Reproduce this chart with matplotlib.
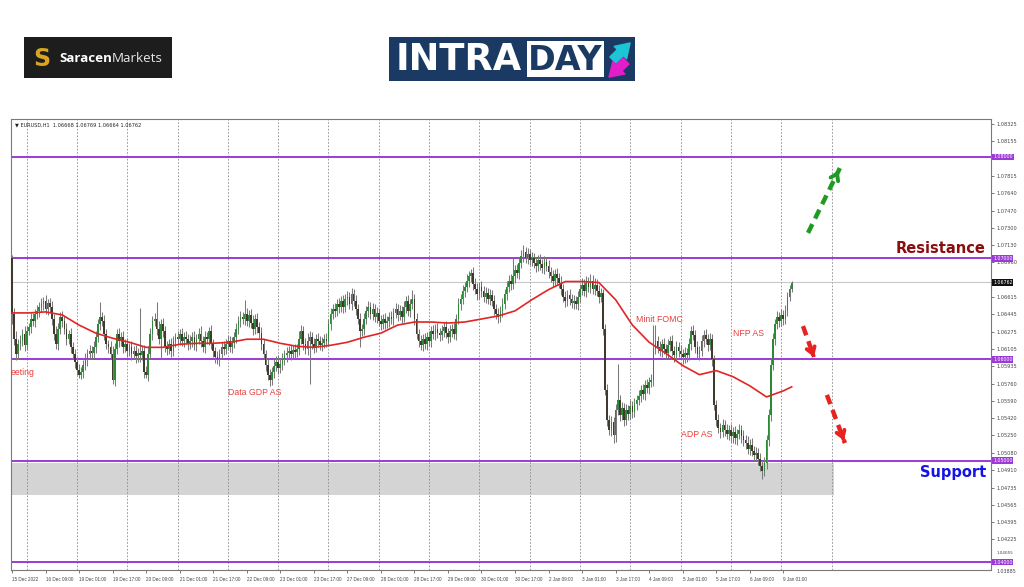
import numpy as np
import matplotlib
matplotlib.use("Agg")
import matplotlib.pyplot as plt
from matplotlib.patches import Rectangle
from matplotlib.transforms import blended_transform_factory

# ---------------- data (prices in pips relative to 1.06000) ----------------
BASE = 1.06
first_open = 100
closes = [
    45, 20, 5, 15, 18, 25, 14, 28, 32, 40,
    38, 45, 48, 52, 55, 58, 50, 56, 52, 40,
    25, 15, 30, 42, 38, 30, 20, 25, 12, 5,
    -2, -10, -15, -12, -5, 0, 5, 8, 6, 12,
    22, 35, 42, 38, 25, 15, 12, 5, -20, 10,
    25, 18, 22, 12, 15, 8, 12, 5, 8, 3,
    6, 4, 8, -12, -15, 5, 25, 38, 40, 30,
    20, 35, 28, 12, 10, 15, 8, 18, 22, 20,
    25, 18, 22, 20, 15, 18, 22, 14, 20, 25,
    18, 12, 22, 20, 28, 15, 8, 2, 0, 5,
    12, 10, 15, 18, 12, 16, 22, 30, 38, 42,
    40, 45, 38, 44, 36, 30, 40, 32, 26, 15,
    5, -5, -15, -20, -12, -6, -2, -8, -4, 0,
    4, 6, 8, 5, 9, 7, 10, 20, 28, 15,
    10, 18, 22, 15, 12, 20, 18, 14, 16, 20,
    18, 35, 45, 50, 48, 55, 52, 58, 52, 60,
    62, 55, 65, 58, 50, 40, 28, 30, 40, 48,
    52, 45, 50, 42, 46, 38, 35, 40, 36, 38,
    42, 40, 46, 50, 44, 48, 42, 52, 58, 48,
    55, 60, 40, 25, 18, 14, 20, 15, 22, 18,
    28, 25, 30, 26, 24, 28, 32, 26, 22, 28,
    30, 25, 40, 55, 60, 68, 72, 78, 82, 85,
    75, 70, 65, 72, 68, 62, 66, 60, 64, 58,
    50, 45, 42, 48, 55, 65, 72, 78, 75, 82,
    88, 85, 95, 102, 106, 100, 104, 98, 100, 95,
    92, 98, 94, 90, 96, 92, 86, 82, 78, 84,
    80, 76, 70, 62, 58, 64, 60, 56, 58, 55,
    62, 70, 74, 68, 76, 72, 78, 70, 74, 68,
    62, 66, 30, -30, -60, -70, -62, -75, -50, -40,
    -55, -48, -60, -50, -54, -46, -52, -44, -40, -36,
    -30, -34, -25, -28, -22, -20, 10, 18, 12, 8,
    15, 10, 6, 14, 18, 8, 4, 12, 8, 5,
    2, 6, 4, 15, 28, 24, 12, 5, 8, 18,
    24, 20, 14, 20, 0, -45, -60, -68, -72, -65,
    -70, -74, -70, -76, -72, -78, -74, -70, -76, -80,
    -82, -88, -84, -90, -94, -92, -98, -105, -110, -102,
    -80, -55, -5, 20, 35, 42, 38, 44, 40, 48,
    62, 70, 76,
]
wick_up = [
    3, 6, 8, 5, 6, 5, 8, 5, 4, 6,
    6, 5, 6, 5, 6, 4, 6, 4, 5, 6,
    5, 8, 6, 5, 6, 5, 6, 4, 6, 5,
    5, 4, 6, 5, 4, 6, 5, 6, 5, 6,
    6, 5, 15, 5, 6, 5, 4, 6, 8, 6,
    5, 6, 5, 6, 5, 6, 4, 6, 5, 6,
    5, 45, 5, 6, 6, 8, 6, 5, 6, 17,
    8, 5, 6, 5, 6, 5, 6, 5, 4, 6,
    5, 6, 5, 6, 5, 6, 5, 6, 5, 6,
    8, 5, 6, 5, 4, 6, 5, 4, 6, 5,
    5, 6, 5, 6, 5, 6, 5, 6, 5, 6,
    5, 14, 6, 5, 6, 8, 5, 6, 5, 6,
    5, 4, 5, 6, 5, 6, 5, 6, 5, 6,
    5, 6, 5, 6, 5, 6, 5, 8, 6, 5,
    6, 8, 6, 5, 6, 5, 6, 5, 6, 5,
    6, 5, 6, 5, 6, 5, 6, 5, 6, 5,
    6, 5, 6, 5, 6, 5, 6, 5, 6, 5,
    6, 5, 6, 5, 6, 5, 6, 5, 6, 5,
    5, 6, 5, 6, 5, 6, 5, 6, 5, 6,
    5, 9, 5, 6, 5, 6, 5, 6, 5, 6,
    5, 6, 5, 6, 5, 6, 5, 6, 5, 6,
    5, 6, 5, 6, 5, 6, 5, 6, 5, 4,
    6, 5, 6, 5, 6, 5, 6, 5, 6, 5,
    6, 5, 6, 5, 6, 5, 6, 5, 6, 18,
    5, 6, 5, 6, 7, 5, 6, 5, 6, 5,
    6, 5, 6, 5, 6, 5, 6, 5, 6, 5,
    6, 5, 6, 5, 6, 5, 6, 5, 6, 5,
    6, 5, 6, 5, 6, 5, 6, 5, 6, 5,
    6, 5, 4, 5, 6, 5, 6, 5, 6, 36,
    5, 6, 5, 6, 5, 6, 5, 6, 5, 6,
    5, 6, 5, 6, 5, 6, 24, 16, 5, 6,
    5, 6, 5, 6, 5, 6, 5, 6, 5, 6,
    5, 6, 5, 6, 5, 6, 5, 6, 5, 6,
    5, 6, 5, 6, 5, 4, 5, 6, 5, 6,
    5, 6, 5, 6, 5, 6, 5, 6, 5, 6,
    5, 6, 5, 6, 5, 6, 5, 6, 5, 6,
    5, 6, 5, 6, 5, 6, 5, 6, 5, 6,
    5, 4, 2,
]
wick_dn = [
    10, 6, 6, 5, 6, 5, 6, 5, 4, 6,
    5, 6, 5, 6, 5, 6, 5, 6, 5, 6,
    6, 5, 6, 5, 6, 5, 6, 5, 6, 5,
    6, 5, 3, 4, 6, 5, 6, 5, 6, 5,
    6, 5, 6, 5, 6, 5, 6, 5, 4, 6,
    5, 6, 5, 6, 5, 6, 5, 6, 5, 6,
    5, 6, 5, 6, 3, 6, 5, 6, 5, 6,
    5, 20, 6, 5, 6, 5, 6, 5, 6, 5,
    6, 5, 6, 5, 6, 5, 6, 5, 6, 5,
    6, 5, 6, 5, 6, 5, 6, 5, 4, 6,
    5, 6, 5, 6, 5, 6, 5, 6, 5, 6,
    5, 6, 5, 6, 5, 6, 5, 6, 5, 6,
    5, 6, 5, 6, 5, 6, 5, 6, 5, 6,
    5, 6, 5, 6, 5, 6, 5, 6, 5, 6,
    5, 6, 42, 5, 6, 5, 6, 5, 6, 5,
    6, 5, 6, 5, 6, 5, 6, 5, 6, 5,
    6, 5, 6, 5, 6, 5, 16, 5, 6, 5,
    6, 5, 6, 5, 6, 5, 6, 5, 6, 5,
    6, 5, 6, 5, 6, 5, 6, 5, 6, 5,
    6, 5, 6, 5, 6, 5, 6, 5, 6, 5,
    6, 5, 6, 5, 6, 5, 6, 5, 6, 5,
    6, 5, 6, 5, 6, 5, 6, 5, 6, 5,
    6, 5, 6, 5, 6, 5, 6, 5, 6, 5,
    6, 5, 6, 5, 6, 5, 6, 5, 6, 5,
    6, 5, 6, 5, 6, 5, 6, 5, 6, 5,
    6, 5, 6, 5, 6, 5, 6, 5, 6, 5,
    6, 5, 6, 5, 6, 5, 6, 5, 6, 5,
    6, 5, 6, 5, 6, 5, 6, 5, 6, 5,
    6, 5, 6, 5, 6, 5, 6, 7, 6, 5,
    6, 5, 6, 5, 6, 5, 6, 5, 6, 5,
    6, 5, 6, 5, 6, 5, 6, 5, 6, 5,
    6, 5, 6, 5, 6, 5, 6, 5, 6, 5,
    6, 5, 6, 5, 6, 5, 6, 5, 6, 5,
    6, 5, 6, 5, 6, 5, 6, 5, 6, 5,
    6, 5, 6, 5, 6, 5, 6, 5, 6, 5,
    6, 5, 6, 5, 6, 5, 6, 5, 8, 5,
    6, 5, 6, 5, 6, 5, 6, 5, 6, 5,
    5, 4, 3,
]
# moving average (pips) sampled at bar indices
ma_bars = [0, 8, 16, 24, 32, 40, 48, 56, 64, 72, 80, 88, 96, 104, 112, 120, 128,
           136, 144, 152, 160, 168, 176, 184, 192, 200, 208, 216, 224, 232, 240,
           248, 256, 264, 272, 280, 288, 296, 304, 312, 320, 328, 336, 344, 352,
           360, 368, 372]
ma_pips = [46, 46, 47, 44, 34, 26, 21, 17, 12, 12, 15, 16, 16, 17, 20, 20, 16,
           13, 12, 14, 17, 22, 26, 34, 37, 37, 36, 37, 40, 43, 48,
           59, 69, 77, 77, 76, 59, 34, 17, 6, -6, -15, -11, -17, -26,
           -37, -31, -27]

levels = [1.08, 1.07, 1.06, 1.05, 1.04]
current_price = 1.06762
support_zone = (1.0466, 1.0498)
zone_end_bar = 392
ytick_vals = [1.08325, 1.08155, 1.07815, 1.07640, 1.07470, 1.07300,
              1.07130, 1.06960, 1.06615, 1.06445, 1.06275, 1.06105,
              1.05935, 1.05760, 1.05590, 1.05420, 1.05250, 1.05080, 1.04910,
              1.04735, 1.04565, 1.04395, 1.04225]
top_of_tag_label = ("1.04055", 1.04068)
bottom_label = "1.03885"
xtick_labels = ["15 Dec 2022", "16 Dec 09:00", "19 Dec 01:00", "19 Dec 17:00",
                "20 Dec 09:00", "21 Dec 01:00", "21 Dec 17:00", "22 Dec 09:00",
                "23 Dec 01:00", "23 Dec 17:00", "27 Dec 09:00", "28 Dec 01:00",
                "28 Dec 17:00", "29 Dec 09:00", "30 Dec 01:00", "30 Dec 17:00",
                "2 Jan 09:00", "3 Jan 01:00", "3 Jan 17:00", "4 Jan 09:00",
                "5 Jan 01:00", "5 Jan 17:00", "6 Jan 09:00", "9 Jan 01:00"]
xtick_step = 16
grid_first, grid_step, grid_count = 7, 24, 17

notes = [("eeting", 0.0, 1.0587), ("Data GDP AS", 116, 1.0567),
         ("Minit FOMC", 308.7, 1.0639), ("NFP AS", 351.6, 1.0626),
         ("ADP AS", 326.8, 1.05264)]
arrows = [((379.8, 1.0725), (395.0, 1.0789), "#1f9a22"),
          ((377.4, 1.0633), (382.6, 1.06025), "#e8231f"),
          ((388.8, 1.0565), (397.4, 1.05175), "#e8231f")]
header = "\u25bc EURUSD,H1  1.06668 1.06769 1.06664 1.06762"

# ---------------- derived ----------------
c = BASE + np.array(closes) / 10000.0
o = np.concatenate([[BASE + first_open / 10000.0], c[:-1]])
hi = np.maximum(o, c) + np.array(wick_up) / 10000.0
lo = np.minimum(o, c) - np.array(wick_dn) / 10000.0
x = np.arange(len(c))

fig = plt.figure(figsize=(10.24, 5.87), dpi=100)
fig.patch.set_facecolor("white")
W, H = 1024, 587
L, R, T, B = 11, 991, 119, 570
ax = fig.add_axes([L / W, 1 - B / H, (R - L) / W, (B - T) / H])
xmin, xmax = -0.48, 467.1
ax.set_xlim(xmin, xmax)
ax.set_ylim(1.03921, 1.08375)

# support zone
ax.add_patch(Rectangle((xmin, support_zone[0]), zone_end_bar - xmin,
                       support_zone[1] - support_zone[0],
                       facecolor="#d4d4d4", edgecolor="none", zorder=0.5))
# vertical dashed grid
for k in range(grid_count):
    ax.axvline(grid_first + k * grid_step, color="#8a8a8a", lw=0.6,
               ls=(0, (2, 2)), zorder=0.6)
# current price line
ax.axhline(current_price, color="#c8c8c8", lw=0.8, zorder=0.7)
# levels
for lv in levels:
    ax.axhline(lv, color="#9c3ad6", lw=1.4, zorder=1)

# candles
bull = c >= o
ax.vlines(x, lo, hi, color="#7a7a7a", lw=0.75, zorder=2)
body_b = np.minimum(o, c)
body_h = np.maximum(np.abs(c - o), 0.00003)
ax.bar(x, body_h, bottom=body_b, width=0.8,
       color=np.where(bull, "#2c8a36", "#3f3a2c"), linewidth=0, zorder=3)

# moving average
ax.plot(ma_bars, BASE + np.array(ma_pips) / 10000.0, color="#e02525", lw=1.2,
        zorder=4)

# notes
for txt, bx, py in notes:
    if bx == 0.0:
        ax.text(0.0, py, txt, transform=blended_transform_factory(ax.transAxes, ax.transData),
                ha="left", va="center", fontsize=6.3, color="#e8403c",
                family="Liberation Sans", zorder=5)
    else:
        ax.text(bx, py, txt, ha="center", va="center", fontsize=6.3,
                color="#e8403c", family="Liberation Sans", zorder=5)

# arrows
for (t, h, col) in arrows:
    ax.plot([t[0], h[0]], [t[1], h[1]], color=col, lw=3.2,
            dashes=(2.2, 1.4), solid_capstyle="butt", zorder=6)
    dx, dy = h[0] - t[0], h[1] - t[1]
    ax.annotate("", xy=h, xytext=(h[0] - 0.15 * dx, h[1] - 0.15 * dy),
                arrowprops=dict(arrowstyle="->,head_length=0.45,head_width=0.3",
                                color=col, lw=2.8), zorder=6)

ax.text(464.7, 1.0710, "Resistance", ha="right", va="center", fontsize=10.5,
        fontweight="bold", color="#8b0d0d", zorder=7)
ax.text(464.7, 1.0488, "Support", ha="right", va="center", fontsize=10.5,
        fontweight="bold", color="#1414e6", zorder=7)

ax.text(0.004, 0.993, header, transform=ax.transAxes, ha="left", va="top",
        fontsize=3.6, color="#222222", zorder=7)

# axes style
for sp in ax.spines.values():
    sp.set_color("#7a7a7a")
    sp.set_linewidth(0.8)
ax.yaxis.tick_right()
ax.set_yticks(ytick_vals)
ax.set_yticklabels([f"{v:.5f}" for v in ytick_vals])
ax.tick_params(axis="y", labelsize=3.6, length=2, width=0.5, pad=2,
               colors="#444444")
ax.set_xticks(np.arange(len(xtick_labels)) * xtick_step)
ax.set_xticklabels(xtick_labels, ha="left", family="Liberation Sans")
ax.tick_params(axis="x", labelsize=3.3, length=2, width=0.5, pad=3,
               colors="#444444")

# price tags
tr = blended_transform_factory(ax.transAxes, ax.transData)
for lv in levels:
    ax.text(1.002, lv, f"{lv:.5f}", transform=tr, ha="left", va="center",
            fontsize=3.4, color="white", clip_on=False, zorder=10,
            bbox=dict(boxstyle="square,pad=0.2", fc="#9c3ad6", ec="none"))
ax.text(1.002, current_price, f"{current_price:.5f}", transform=tr, ha="left",
        va="center", fontsize=3.4, color="white", clip_on=False, zorder=10,
        bbox=dict(boxstyle="square,pad=0.2", fc="#111111", ec="none"))
ax.text(1.006, top_of_tag_label[1], top_of_tag_label[0], transform=tr,
        ha="left", va="bottom", fontsize=3.0, color="#444444", clip_on=False)
ax.text(1.006, 0.003, bottom_label, transform=ax.transAxes, ha="left",
        va="top", fontsize=3.4, color="#444444", clip_on=False)

# ---------------- logos (pixel overlay) ----------------
ov = fig.add_axes([0, 0, 1, 1], facecolor="none")
ov.set_xlim(0, W)
ov.set_ylim(H, 0)
ov.axis("off")
ov.add_patch(Rectangle((24, 37), 148, 41, fc="#1d1d1d", ec="none"))
ov.text(42, 58.5, "S", ha="center", va="center", fontsize=17,
        fontweight="bold", color="#d9a521", family="DejaVu Sans")
t1 = ov.text(59, 58, "Saracen", ha="left", va="center", fontsize=9.6,
             fontweight="bold", color="white", family="Open Sans")
ov.annotate("Markets", xy=(1, 0.5), xycoords=t1, ha="left", va="center",
            fontsize=9.6, color="#e8e8e8", family="Open Sans")

ov.add_patch(Rectangle((389, 37), 246, 44, fc="#1b3a63", ec="none"))
ov.text(396, 60, "INTRA", ha="left", va="center", fontsize=26.5,
        fontweight="bold", color="white", family="DejaVu Sans")
ov.add_patch(Rectangle((527, 41), 77, 36, fc="white", ec="none"))
ov.text(565.5, 60, "DAY", ha="center", va="center", fontsize=24,
        fontweight="bold", color="#1b3a63", family="DejaVu Sans")
ov.annotate("", xy=(632, 41), xytext=(611, 62),
            arrowprops=dict(arrowstyle="simple,head_length=0.7,head_width=0.9,tail_width=0.45",
                            color="#1cc4d6", mutation_scale=14))
ov.annotate("", xy=(607, 79), xytext=(628, 59),
            arrowprops=dict(arrowstyle="simple,head_length=0.7,head_width=0.9,tail_width=0.45",
                            color="#e11ec9", mutation_scale=14))

fig.savefig("out.png", dpi=100, facecolor="white")
